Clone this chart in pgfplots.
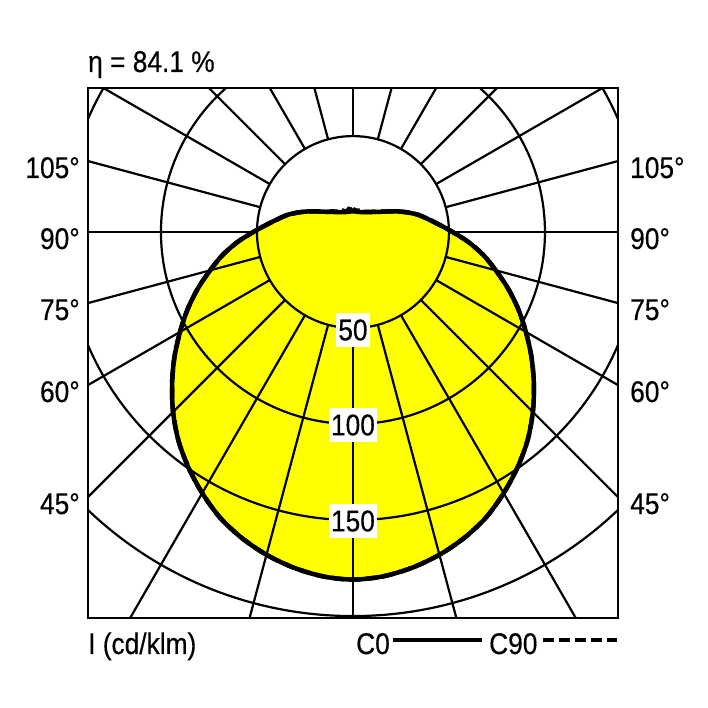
\documentclass[border=0pt]{standalone}
\usepackage{fontspec}
\setmainfont{Liberation Sans}[FakeStretch=0.88, FakeBold=0.4]
\usepackage{pgfplots}
\usepackage{pgfplotstable}
\pgfplotsset{compat=1.18}
\definecolor{lumyellow}{RGB}{255,255,0}

% theta = 270 + gamma (polar angle in the axis), I in cd/klm
\pgfplotstableread{
theta I
90 10.8
95 10.8
100 10.8
105 10.9
110 11.1
115 11.5
120 12.0
125 12.7
130 13.6
135 14.8
140 16.3
145 18.5
150 21.5
155 25.5
160 30
165 35
170 39.5
175 45
180 52
185 60.5
190 69
195 77
200 86
205 95
210 104
215 113.5
220 123
225 132.5
230 141.5
235 149.5
240 157
245 164
250 169.5
255 174
260 177.5
265 180
270 181
275 180
280 177.5
285 174
290 169.5
295 164
300 157
305 149.5
310 141.5
315 132.5
320 123
325 113.5
330 104
335 95
340 86
345 77
350 69
355 60.5
360 52
365 45
370 39.5
375 35
380 30
385 25.5
390 21.5
395 18.5
400 16.3
405 14.8
410 13.6
415 12.7
420 12.0
425 11.5
430 11.1
435 10.9
440 10.8
445 10.8
450 10.8
}\czero

\pgfplotstableread{
theta I
90 12.0
95 11.6
100 12.2
105 11.4
110 11.3
115 12.3
120 12.4
125 12.8
130 13.9
135 15.3
140 16.4
145 18.5
150 21.5
155 25.5
160 30
165 35
170 39.5
175 45
180 52
185 60.5
190 69
195 77
200 86
205 95
210 104
215 113.5
220 123
225 132.5
230 141.5
235 149.5
240 157
245 164
250 169.5
255 174
260 177.5
265 180
270 181
275 180
280 177.5
285 174
290 169.5
295 164
300 157
305 149.5
310 141.5
315 132.5
320 123
325 113.5
330 104
335 95
340 86
345 77
350 69
355 60.5
360 52
365 45
370 39.5
375 35
380 30
385 25.5
390 21.5
395 18.5
400 16.3
405 15.0
410 13.7
415 12.8
420 12.2
425 11.6
430 11.6
435 11.6
440 11.2
445 11.5
450 12.0
}\cninety

\begin{document}
\begin{tikzpicture}[every node/.style={font=\fontsize{30}{32}\selectfont, inner sep=0pt}]
  \useasboundingbox (0,0) rectangle (708bp,708bp);
  \begin{axis}[
    at={(88bp,90bp)}, anchor=south west,
    x=1.92bp, y=1.92bp,
    xmin=-138, xmax=138, ymin=-201, ymax=75,
    xtick=\empty, ytick=\empty,
    axis line style={line width=2.6bp},
    axis on top,
  ]
    % yellow area
    \addplot[data cs=polar, smooth, fill=lumyellow, draw=none] table[x=theta, y=I] {\czero} -- cycle;

    % polar grid
    \pgfplotsinvokeforeach{50,100,150,200}{
      \draw[line width=2.2bp] (axis cs:0,0) circle[radius=#1];
    }
    \pgfplotsinvokeforeach{0,15,...,345}{
      \draw[line width=2.2bp] (axis cs:{50*cos(#1)},{50*sin(#1)}) -- (axis cs:{400*cos(#1)},{400*sin(#1)});
    }

    % curves
    \addplot[data cs=polar, smooth, line width=4.5bp, line join=round] table[x=theta, y=I] {\czero};
    \addplot[data cs=polar, smooth, line width=4.5bp, dash pattern=on 12bp off 5bp] table[x=theta, y=I] {\cninety};

    % scale labels
    \node[fill=white, inner xsep=2bp, inner ysep=6bp] at (axis cs:0,-51) {50};
    \node[fill=white, inner xsep=2bp, inner ysep=6bp] at (axis cs:0,-100.5) {100};
    \node[fill=white, inner xsep=2bp, inner ysep=6bp] at (axis cs:0,-150.5) {150};
  \end{axis}

  % title
  \node[anchor=base west] at (88bp,636bp) {η = 84.1 \%};

  % angle labels
  \foreach \ang/\yy in {105/161, 90/232, 75/303, 60/385, 45/497}{
    \node[anchor=base east] at (80bp,{(708-\yy-17)*1bp}) {\ang°};
    \node[anchor=base west] at (630bp,{(708-\yy-17)*1bp}) {\ang°};
  }

  % unit and legend
  \node[anchor=base west] at (88bp,54bp) {I (cd/klm)};
  \node[anchor=base west] at (356bp,54bp) {C0};
  \draw[line width=3.5bp] (393bp,68bp) -- (482bp,68bp);
  \node[anchor=base west] at (489bp,54bp) {C90};
  \draw[line width=3.5bp, dash pattern=on 11bp off 5bp] (543bp,68bp) -- (617bp,68bp);
\end{tikzpicture}
\end{document}
